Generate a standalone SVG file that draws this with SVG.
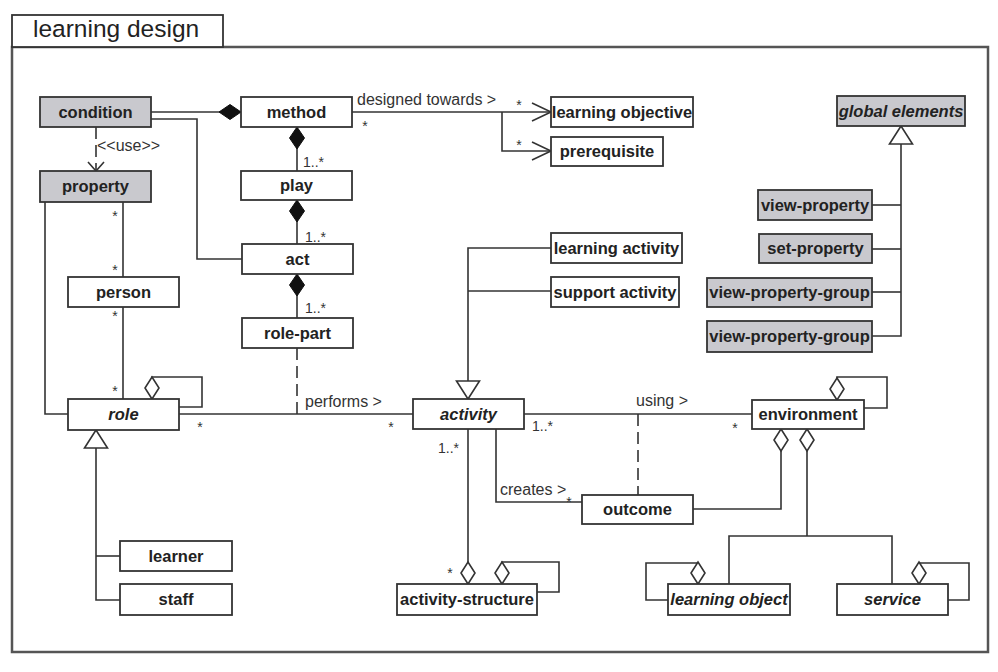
<svg xmlns="http://www.w3.org/2000/svg" width="998" height="672" viewBox="0 0 998 672">
<style>
.box{fill:#fff;stroke:#333;stroke-width:1.8}
.gray{fill:#c9c9ce;stroke:#333;stroke-width:1.8}
.nt{font-family:"Liberation Sans",Arial,sans-serif;font-weight:bold;font-size:16.5px;fill:#222;text-anchor:middle}
.it{font-style:italic}
.ln{fill:none;stroke:#333;stroke-width:1.6}
.dash{stroke-dasharray:12,6}
.lb{font-family:"Liberation Sans",Arial,sans-serif;font-size:16px;fill:#333}
.mu{font-family:"Liberation Sans",Arial,sans-serif;font-size:14px;fill:#333}
.mc{text-anchor:middle}
</style>
<defs>
<marker id="fd" markerUnits="userSpaceOnUse" markerWidth="30" markerHeight="30" refX="0" refY="0" orient="auto" overflow="visible">
<path d="M0,0 L11,-7.5 L22,0 L11,7.5 Z" fill="#111" stroke="#111" stroke-width="1"/>
</marker>
<marker id="od" markerUnits="userSpaceOnUse" markerWidth="30" markerHeight="30" refX="0" refY="0" orient="auto" overflow="visible">
<path d="M0,0 L11,-7 L22,0 L11,7 Z" fill="#fff" stroke="#333" stroke-width="1.6"/>
</marker>
<marker id="oa" markerUnits="userSpaceOnUse" markerWidth="30" markerHeight="30" refX="0" refY="0" orient="auto" overflow="visible">
<path d="M-19,-9 L0,0 L-19,9" fill="none" stroke="#333" stroke-width="1.6"/>
</marker>
<marker id="oas" markerUnits="userSpaceOnUse" markerWidth="30" markerHeight="30" refX="0" refY="0" orient="auto" overflow="visible">
<path d="M-9,-8 L0,0 L-9,8" fill="none" stroke="#333" stroke-width="1.6"/>
</marker>
<marker id="tri" markerUnits="userSpaceOnUse" markerWidth="30" markerHeight="30" refX="0" refY="0" orient="auto" overflow="visible">
<path d="M0,0 L-18,-11.5 L-18,11.5 Z" fill="#fff" stroke="#333" stroke-width="1.6"/>
</marker>
</defs>
<rect x="0" y="0" width="998" height="672" fill="#fff"/>
<g id="frame">
<rect x="12" y="47" width="976" height="605" fill="none" stroke="#555" stroke-width="2.5"/>
<rect x="12" y="15" width="211" height="32" fill="#fff" stroke="#333" stroke-width="1.8"/>
<text x="33" y="37" font-family="'Liberation Sans',Arial,sans-serif" font-size="24.5" fill="#222">learning design</text>
</g>
<g id="connectors">
<path class="ln" d="M241,112 H151" marker-start="url(#fd)"/>
<path class="ln" d="M151,119 H197 V259 H242"/>
<path class="ln dash" d="M96,127 V171" marker-end="url(#oas)"/>
<path class="ln" d="M297,127 V171" marker-start="url(#fd)"/>
<path class="ln" d="M297,200 V244" marker-start="url(#fd)"/>
<path class="ln" d="M297,274 V318" marker-start="url(#fd)"/>
<path class="ln" d="M352,112 H551" marker-end="url(#oa)"/>
<path class="ln" d="M502,112 V151 H551" marker-end="url(#oa)"/>
<path class="ln" d="M45,202 V414 H68"/>
<path class="ln" d="M123,202 V277"/>
<path class="ln" d="M123,307 V399"/>
<path class="ln" d="M152,399 V377 H202 V407 H179" marker-start="url(#od)"/>
<path class="ln" d="M179,414 H413"/>
<path class="ln dash" d="M297,348 V414"/>
<path class="ln" d="M120,600 H96 V430" marker-end="url(#tri)"/>
<path class="ln" d="M96,556 H120"/>
<path class="ln" d="M524,414 H752"/>
<path class="ln dash" d="M638,414 V495"/>
<path class="ln" d="M496,429 V502 H582"/>
<path class="ln" d="M468,584 V429" marker-start="url(#od)"/>
<path class="ln" d="M502,584 V562 H559 V592 H537" marker-start="url(#od)"/>
<path class="ln" d="M837,400 V377 H887 V408 H864" marker-start="url(#od)"/>
<path class="ln" d="M781,429 V509 H693" marker-start="url(#od)"/>
<path class="ln" d="M807,429 V536" marker-start="url(#od)"/>
<path class="ln" d="M729,584 V536 H892 V584"/>
<path class="ln" d="M698,584 V563 H646 V600 H668" marker-start="url(#od)"/>
<path class="ln" d="M919,584 V563 H969 V600 H948" marker-start="url(#od)"/>
<path class="ln" d="M551,248 H468 V399" marker-end="url(#tri)"/>
<path class="ln" d="M468,291 H551"/>
<path class="ln" d="M872,336 H901 V126" marker-end="url(#tri)"/>
<path class="ln" d="M872,205 H901"/>
<path class="ln" d="M872,249 H901"/>
<path class="ln" d="M872,292 H901"/>
</g>
<g id="labels">
<text class="lb" x="97" y="151" font-size="15">&lt;&lt;use&gt;&gt;</text>
<text class="lb" x="357" y="105">designed towards &gt;</text>
<text class="lb" x="305" y="407">performs &gt;</text>
<text class="lb" x="636" y="406">using &gt;</text>
<text class="lb" x="500" y="495">creates &gt;</text>
<text class="mu" x="303" y="167">1..*</text>
<text class="mu" x="305" y="242">1..*</text>
<text class="mu" x="305" y="313">1..*</text>
<text class="mu" x="532" y="431">1..*</text>
<text class="mu" x="438" y="453">1..*</text>
<text class="mu mc" x="365" y="131">*</text>
<text class="mu mc" x="519" y="110">*</text>
<text class="mu mc" x="519" y="150">*</text>
<text class="mu mc" x="115" y="221">*</text>
<text class="mu mc" x="115" y="275">*</text>
<text class="mu mc" x="115" y="321">*</text>
<text class="mu mc" x="115" y="396">*</text>
<text class="mu mc" x="200" y="432">*</text>
<text class="mu mc" x="391" y="432">*</text>
<text class="mu mc" x="735" y="433">*</text>
<text class="mu mc" x="569" y="507" font-size="12">*</text>
<text class="mu mc" x="450" y="578">*</text>
</g>
<g id="condition"><rect class="gray" x="40" y="97" width="111" height="30"/><text class="nt" x="95.5" y="118">condition</text></g>
<g id="method"><rect class="box" x="241" y="97" width="111" height="30"/><text class="nt" x="296.5" y="118">method</text></g>
<g id="property"><rect class="gray" x="40" y="171" width="111" height="31"/><text class="nt" x="95.5" y="192">property</text></g>
<g id="play"><rect class="box" x="241" y="171" width="111" height="29"/><text class="nt" x="296.5" y="191">play</text></g>
<g id="act"><rect class="box" x="242" y="244" width="111" height="30"/><text class="nt" x="297.5" y="265">act</text></g>
<g id="person"><rect class="box" x="68" y="277" width="111" height="30"/><text class="nt" x="123.5" y="298">person</text></g>
<g id="role-part"><rect class="box" x="242" y="318" width="111" height="30"/><text class="nt" x="297.5" y="339">role-part</text></g>
<g id="role"><rect class="box" x="68" y="399" width="111" height="31"/><text class="nt it" x="123.5" y="420">role</text></g>
<g id="learning-objective"><rect class="box" x="551" y="97" width="142" height="30"/><text class="nt" x="622" y="118">learning objective</text></g>
<g id="prerequisite"><rect class="box" x="551" y="137" width="112" height="29"/><text class="nt" x="607" y="157">prerequisite</text></g>
<g id="global-elements"><rect class="gray" x="837" y="96" width="128" height="30"/><text class="nt it" x="901" y="117">global elements</text></g>
<g id="view-property"><rect class="gray" x="758" y="190" width="114" height="30"/><text class="nt" x="815" y="211">view-property</text></g>
<g id="set-property"><rect class="gray" x="759" y="234" width="113" height="29"/><text class="nt" x="815.5" y="254">set-property</text></g>
<g id="view-property-group-1"><rect class="gray" x="707" y="278" width="165" height="29"/><text class="nt" x="789.5" y="298">view-property-group</text></g>
<g id="view-property-group-2"><rect class="gray" x="707" y="321" width="165" height="31"/><text class="nt" x="789.5" y="342">view-property-group</text></g>
<g id="learning-activity"><rect class="box" x="551" y="233" width="131" height="30"/><text class="nt" x="616.5" y="254">learning activity</text></g>
<g id="support-activity"><rect class="box" x="551" y="277" width="128" height="30"/><text class="nt" x="615" y="298">support activity</text></g>
<g id="activity"><rect class="box" x="413" y="399" width="111" height="30"/><text class="nt it" x="468.5" y="420">activity</text></g>
<g id="environment"><rect class="box" x="752" y="400" width="112" height="29"/><text class="nt" x="808" y="420">environment</text></g>
<g id="outcome"><rect class="box" x="582" y="495" width="111" height="29"/><text class="nt" x="637.5" y="515">outcome</text></g>
<g id="activity-structure"><rect class="box" x="397" y="584" width="140" height="31"/><text class="nt" x="467" y="605">activity-structure</text></g>
<g id="learning-object"><rect class="box" x="668" y="584" width="122" height="31"/><text class="nt it" x="729" y="605">learning object</text></g>
<g id="service"><rect class="box" x="837" y="584" width="111" height="31"/><text class="nt it" x="892.5" y="605">service</text></g>
<g id="learner"><rect class="box" x="120" y="541" width="112" height="30"/><text class="nt" x="176" y="562">learner</text></g>
<g id="staff"><rect class="box" x="120" y="584" width="112" height="31"/><text class="nt" x="176" y="605">staff</text></g>
</svg>
